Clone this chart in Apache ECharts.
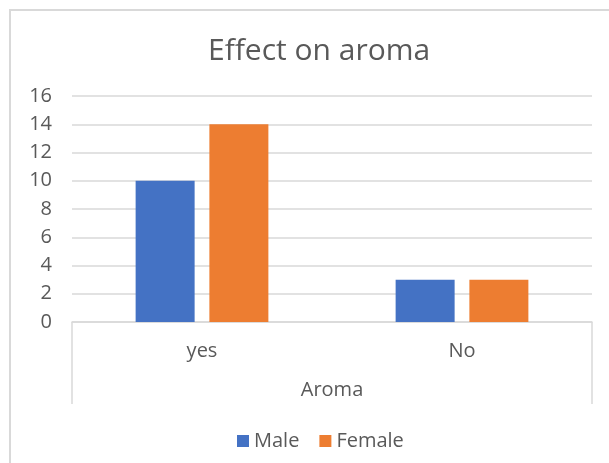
<!DOCTYPE html>
<html>
<head>
<meta charset="utf-8">
<script src="https://cdn.jsdelivr.net/npm/echarts@6/dist/echarts.min.js"></script>
<style>
  html, body { margin: 0; padding: 0; background: #fff; }
  #frame { position: absolute; left: 9px; top: 9px; right: 0; bottom: 0; border-left: 2px solid #d9d9d9; border-top: 2px solid #d9d9d9; }
  #main { position: absolute; left: 0; top: 0; width: 609px; height: 463px; }
</style>
</head>
<body>
<div id="frame"></div>
<div id="main"></div>
<script>
// chart data
const categories = ['yes', 'No']
const groupName = ['Aroma']
const maleData = [10, 3]
const femaleData = [14, 3]

const textColor = '#595959'
const lineColor = '#d9d9d9'
const fontFamily = '"Open Sans", "Noto Sans", sans-serif'

const myChart = echarts.init(document.getElementById('main'), null, { renderer: 'canvas' })

const options = {
  backgroundColor: 'transparent',
  textStyle: { fontFamily: fontFamily },
  title: {
    text: 'Effect on aroma',
    left: 203,
    top: 31,
    textStyle: {
      color: textColor,
      fontSize: 30,
      fontWeight: 'normal',
      fontFamily: fontFamily
    }
  },
  legend: {
    data: ['Male', 'Female'],
    left: 232,
    top: 426,
    itemWidth: 12,
    itemHeight: 12,
    itemGap: 20,
    icon: 'rect',
    textStyle: { color: textColor, fontSize: 20, fontFamily: fontFamily }
  },
  grid: {
    left: 72,
    right: 17,
    top: 96,
    bottom: 141,
    containLabel: false
  },
  xAxis: [
    {
      type: 'category',
      data: categories,
      axisLine: { lineStyle: { color: lineColor, width: 1.5 } },
      axisTick: { show: false },
      axisLabel: { color: textColor, fontSize: 20, margin: 19, fontFamily: fontFamily }
    },
    {
      type: 'category',
      data: groupName,
      position: 'bottom',
      axisLine: { show: false },
      axisTick: { show: true, length: 82, lineStyle: { color: lineColor, width: 1.5 } },
      axisLabel: { color: textColor, fontSize: 20, margin: 58, fontFamily: fontFamily }
    }
  ],
  yAxis: {
    type: 'value',
    min: 0,
    max: 16,
    interval: 2,
    axisLine: { show: false },
    axisTick: { show: false },
    axisLabel: { color: textColor, fontSize: 20, margin: 20, fontFamily: fontFamily },
    splitLine: { lineStyle: { color: lineColor, width: 1.5 } }
  },
  series: [
    {
      name: 'Male',
      type: 'bar',
      xAxisIndex: 0,
      barWidth: 59,
      barGap: '25%',
      itemStyle: { color: '#4472C4' },
      data: maleData
    },
    {
      name: 'Female',
      type: 'bar',
      xAxisIndex: 0,
      barWidth: 59,
      barGap: '25%',
      itemStyle: { color: '#ED7D31' },
      data: femaleData
    }
  ]
}

myChart.setOption(options)
</script>
</body>
</html>
